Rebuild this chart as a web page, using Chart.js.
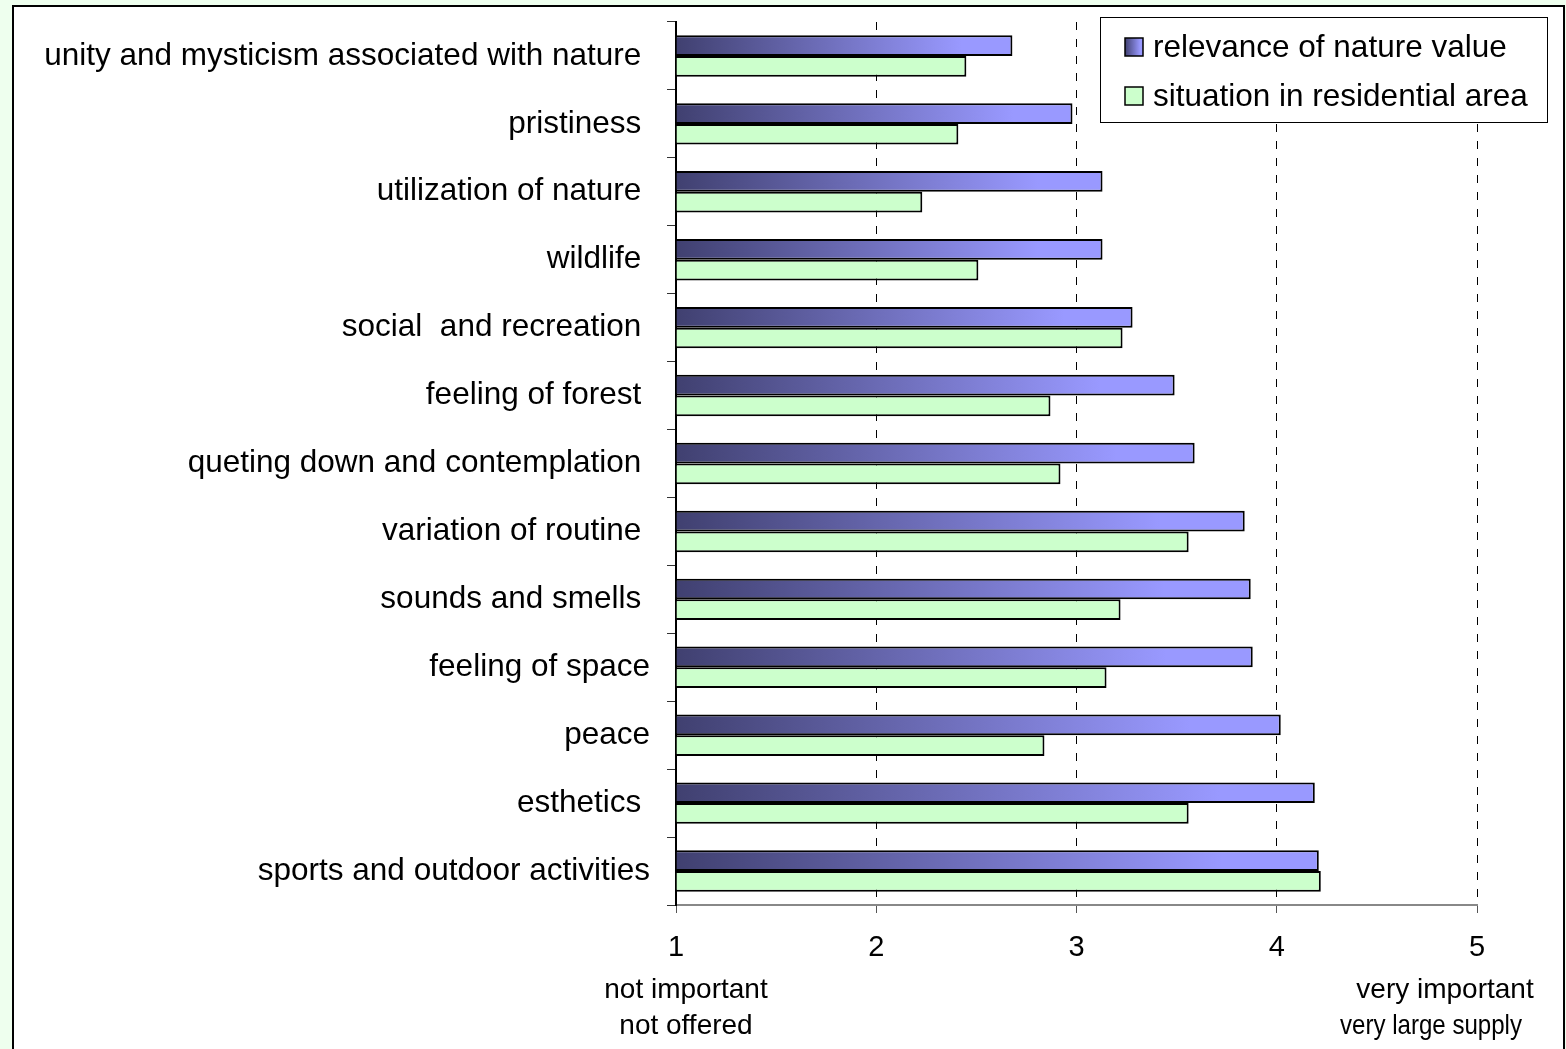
<!DOCTYPE html>
<html>
<head>
<meta charset="utf-8">
<script src="https://cdn.jsdelivr.net/npm/chart.js@4.4.1/dist/chart.umd.min.js"></script>
<style>
  html, body { margin: 0; padding: 0; background: #eeffee; overflow: hidden; }
  #frame {
    position: absolute; left: 12px; top: 5px;
    width: 1549px; height: 1042px;
    border: 2px solid #000; border-bottom: none;
    background: #fff;
  }
</style>
</head>
<body>
<div id="frame"><canvas id="chart"></canvas></div>
<script>
// categories, top to bottom
const categories = [
  'unity and mysticism associated with nature ',
  'pristiness ',
  'utilization of nature ',
  'wildlife ',
  'social  and recreation ',
  'feeling of forest ',
  'queting down and contemplation ',
  'variation of routine ',
  'sounds and smells ',
  'feeling of space',
  'peace',
  'esthetics ',
  'sports and outdoor activities'
];

const relevance = [2.68, 2.98, 3.13, 3.13, 3.28, 3.49, 3.59, 3.84, 3.87, 3.88, 4.02, 4.19, 4.21];
const situation = [2.45, 2.41, 2.23, 2.51, 3.23, 2.87, 2.92, 3.56, 3.22, 3.15, 2.84, 3.56, 4.22];

const seriesNames = ['relevance of nature value', 'situation in residential area'];
const tickValues = [1, 2, 3, 4, 5];
const lowEndText = ['not important', 'not offered'];
const highEndText = ['very important', 'very large supply'];

const FONT = '"Liberation Sans", Arial, sans-serif';

function barGradient(c, x0, x1) {
  let g = c.ctx.createLinearGradient(x0, 0, x1, 0);
  g.addColorStop(0, '#404070');
  g.addColorStop(0.85, '#9999ff');
  g.addColorStop(1, '#9999ff');
  return g;
}

// legend box + end-of-scale captions
const extras = {
  id: 'extras',
  afterDraw(chart) {
    let ctx = chart.ctx;
    let xs = chart.scales.x;
    let area = chart.chartArea;
    ctx.save();

    // legend
    let right = chart.width - 16, left = right - 447, top = 10, bottom = 115;
    ctx.fillStyle = '#fff';
    ctx.fillRect(left, top, right - left, bottom - top);
    ctx.strokeStyle = '#000';
    ctx.lineWidth = 1;
    ctx.strokeRect(left + 0.5, top + 0.5, right - left, bottom - top);
    ctx.font = '31.5px ' + FONT;
    ctx.textBaseline = 'middle';
    ctx.textAlign = 'left';
    let rows = [top + 30, top + 79];
    seriesNames.forEach((name, i) => {
      let sx = left + 25, sy = rows[i] - 9;
      ctx.fillStyle = i === 0 ? barGradient(chart, sx, sx + 18) : '#ccffcc';
      ctx.fillRect(sx, sy, 18, 18);
      ctx.strokeStyle = '#000';
      ctx.lineWidth = 1.5;
      ctx.strokeRect(sx, sy, 18, 18);
      ctx.fillStyle = '#000';
      ctx.fillText(name, left + 53, rows[i] + 1);
    });

    // captions under the scale ends
    ctx.font = '28px ' + FONT;
    ctx.textAlign = 'center';
    ctx.fillStyle = '#000';
    let x1 = xs.getPixelForValue(1);
    let x5 = xs.getPixelForValue(5);
    ctx.fillText(lowEndText[0], x1 + 10, area.bottom + 85);
    ctx.fillText(lowEndText[1], x1 + 10, area.bottom + 121);
    ctx.fillText(highEndText[0], x5 - 32, area.bottom + 85);
    ctx.fillText(highEndText[1], x5 - 46, area.bottom + 121, 182);
    ctx.restore();
  }
};

new Chart(document.getElementById('chart'), {
  type: 'bar',
  data: {
    labels: categories,
    datasets: [
      {
        label: seriesNames[0],
        data: relevance,
        base: 1,
        backgroundColor: (c) => {
          let chart = c.chart;
          if (!chart.chartArea || !chart.scales.x || c.raw === undefined) return '#7777cc';
          let xs = chart.scales.x;
          return barGradient(chart, xs.getPixelForValue(1), xs.getPixelForValue(c.raw));
        },
        borderColor: '#000',
        borderWidth: 2
      },
      {
        label: seriesNames[1],
        data: situation,
        base: 1,
        backgroundColor: '#ccffcc',
        borderColor: '#000',
        borderWidth: 2
      }
    ]
  },
  options: {
    indexAxis: 'y',
    responsive: true,
    maintainAspectRatio: false,
    animation: false,
    layout: { padding: { top: 15, right: 86, bottom: 0, left: 0 } },
    datasets: { bar: { categoryPercentage: 0.61, barPercentage: 1.0 } },
    plugins: {
      legend: { display: false },
      tooltip: { enabled: false }
    },
    scales: {
      x: {
        min: 1,
        max: 5,
        afterFit: (s) => { s.height = 144; },
        afterBuildTicks: (s) => { s.ticks = tickValues.map(v => ({ value: v })); },
        ticks: {
          color: '#000',
          font: { family: FONT, size: 29 },
          padding: 18
        },
        grid: {
          color: (c) => c.tick && c.tick.value === 1 ? 'rgba(0,0,0,0)' : '#000',
          lineWidth: 1,
          tickColor: '#555',
          tickBorderDash: [],
          tickLength: 8
        },
        border: { color: '#888', width: 2, dash: [8, 9] }
      },
      y: {
        afterFit: (s) => { s.width = 662; s.paddingTop = 0; s.paddingBottom = 0; },
        ticks: {
          color: '#000',
          font: { family: FONT, size: 31.5 },
          padding: 17
        },
        grid: {
          drawOnChartArea: false,
          drawTicks: true,
          tickLength: 9,
          tickColor: '#333',
          offset: true
        },
        border: { color: '#000', width: 2 }
      }
    }
  },
  plugins: [extras]
});
</script>
</body>
</html>
